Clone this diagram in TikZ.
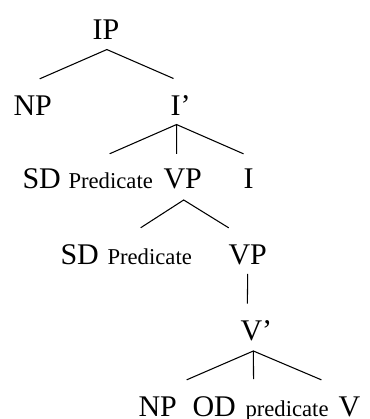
\documentclass[tikz,border=0pt]{standalone}
\usepackage{fontspec}
\setmainfont{Liberation Serif}
\usepackage{tikz}
\usetikzlibrary{calc}

\begin{document}
\begin{tikzpicture}[x=0.75pt, y=-0.75pt, line width=0.8pt,
  cat/.style={inner sep=0pt, anchor=base west, font=\fontsize{22.5}{27}\selectfont},
  role/.style={inner sep=0pt, anchor=base west, font=\fontsize{17}{20}\selectfont}]
  \useasboundingbox (0,0) rectangle (370,419);
  \node[cat] (ip) at (92,39) {IP};
  \node[cat] (np1) at (13,115) {NP};
  \node[cat] (ibar) at (170,115) {I’};
  \node[cat] (sd1) at (22,188) {SD};
  \node[role] (pred1) at (68,188) {Predicate};
  \node[cat] (vp1) at (163,188) {VP};
  \node[cat] (i1) at (243,188) {I};
  \node[cat] (sd2) at (60,264) {SD};
  \node[role] (pred2) at (107,264) {Predicate};
  \node[cat] (vp2) at (228,264) {VP};
  \node[cat] (vbar) at (240,340) {V’};
  \node[cat] (np2) at (138,416) {NP};
  \node[cat] (od) at (192,416) {OD};
  \node[role] (pred3) at (245,416) {predicate};
  \node[cat] (v) at (338,416) {V};

  \draw ($(np1.north)+(7,-16)$) -- ($(ip.south)+(1,10)$) -- ($(ibar.north)+(-7,-16)$);
  \draw ($(pred1.north)+(-1,-18)$) -- ($(ibar.south)+(-4,9)$) -- ($(i1.north)+(-5,-14)$);
  \draw ($(ibar.south)+(-4,9)$) -- ($(vp1.north)+(-6,-14)$);
  \draw ($(pred2.north)+(-9,-20)$) -- ($(vp1.south)+(1,11)$) -- ($(vp2.north)+(-19,-16)$);
  \draw ($(vp2.south)+(0,9)$) -- ($(vbar.north)+(-9,-16)$);
  \draw ($(np2.north)+(29,-16)$) -- ($(vbar.south)+(-3,10)$) -- ($(v.north)+(-28,-16)$);
  \draw ($(vbar.south)+(-3,10)$) -- ($(pred3.north)+(-33.5,-20.5)$);
\end{tikzpicture}
\end{document}
